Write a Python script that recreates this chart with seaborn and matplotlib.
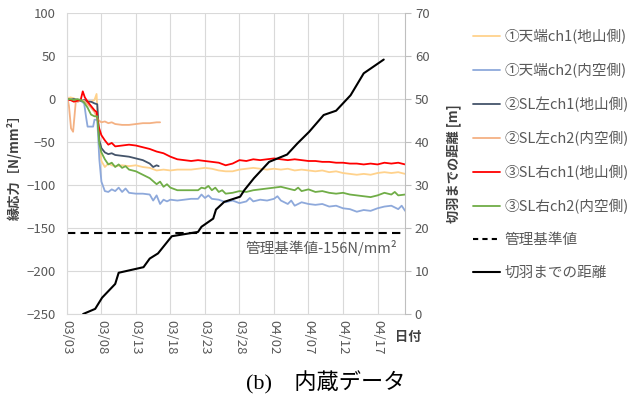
import matplotlib
matplotlib.use('Agg')
import matplotlib.pyplot as plt
import matplotlib.dates as mdates
from matplotlib.lines import Line2D
import seaborn as sns
import pandas as pd

# measurement start date (days below are offsets from it)
base_date = pd.Timestamp('2021-03-03')

# ①天端ch1(地山側)
d_c1 = [0, 0.5, 1, 1.5, 2, 2.5, 3, 3.5, 4, 4.3, 4.6, 5, 5.5, 6, 6.5, 7, 8, 9, 10, 11, 12, 13, 14, 15, 16, 17,
        18, 19, 20, 21, 22, 23, 24, 25, 26, 27, 28, 29, 30, 31, 32, 33, 34, 35, 36, 37, 38, 39, 40, 41, 42,
        43, 44, 45, 46, 47, 48, 49]
v_c1 = [0, 2, 1, -2, -1, -3, -2, -3, -1, 6, -40, -72, -79, -75, -77, -78, -77, -78, -77, -79, -80, -83, -82,
        -83, -82, -82, -82, -81, -80, -81, -83, -84, -84, -82, -81, -80, -81, -82, -81, -82, -81, -83, -82,
        -83, -84, -83, -85, -84, -86, -87, -88, -87, -88, -86, -85, -86, -85, -87]

# ①天端ch2(内空側)
d_c2 = [0, 0.5, 1, 1.5, 2, 2.5, 2.8, 3, 3.5, 3.8, 4, 4.4, 4.7, 5, 5.5, 6, 6.5, 7, 7.5, 8, 8.5, 9, 10, 11, 12,
        12.5, 13, 13.5, 14, 14.5, 15, 16, 17, 18, 19, 19.5, 20, 20.5, 21, 22, 23, 24, 25, 26, 26.5, 27, 28,
        29, 30, 30.5, 31, 32, 32.5, 33, 34, 35, 36, 37, 38, 39, 40, 41, 42, 43, 44, 45, 46, 47, 48, 48.5, 49]
v_c2 = [0, -1, 0, -3, -2, -5, -22, -32, -32, -32, -24, -24, -70, -96, -107, -108, -105, -107, -103, -108,
        -104, -109, -110, -110, -111, -118, -112, -122, -117, -119, -117, -118, -117, -116, -116, -111, -115,
        -112, -116, -117, -120, -118, -121, -119, -115, -119, -117, -118, -116, -113, -118, -122, -118, -124,
        -120, -122, -123, -122, -125, -124, -127, -128, -131, -129, -130, -127, -125, -124, -128, -124, -130]

# ②SL左ch1(地山側)
d_l1 = [0, 0.5, 1, 1.5, 2, 2.5, 3, 3.5, 4, 4.4, 4.7, 5, 5.5, 6, 6.5, 7, 8, 9, 10, 11, 11.5, 12, 12.5, 13, 13.3]
v_l1 = [0, -1, 0, -1, -2, -1, -3, -3, -5, -6, -48, -57, -62, -64, -63, -65, -66, -67, -69, -71, -73, -75,
        -79, -77, -78]

# ②SL左ch2(内空側)
d_l2 = [0, 0.3, 0.6, 0.9, 1.1, 1.3, 1.6, 2, 2.5, 3, 3.5, 4, 4.5, 5, 5.5, 6, 6.5, 7, 8, 9, 10, 11, 12, 13, 13.5]
v_l2 = [5, -8, -34, -38, -20, -2, -3, -1, -2, -6, -10, -15, -24, -27, -26, -28, -27, -29, -30, -30, -29,
        -28, -28, -27, -27]

# ③SL右ch1(地山側)
d_r1 = [0, 0.5, 1, 1.5, 2, 2.3, 2.6, 3, 3.5, 4, 4.3, 4.6, 5, 5.5, 6, 6.5, 7, 8, 9, 10, 11, 12, 13, 14, 15,
        16, 17, 18, 19, 20, 21, 22, 23, 24, 25, 26, 27, 28, 29, 30, 31, 32, 33, 34, 35, 36, 37, 38, 39, 40,
        41, 42, 43, 44, 45, 46, 47, 48, 49]
v_r1 = [0, -1, -3, -2, -1, 9, 2, -3, -8, -13, -15, -32, -42, -48, -53, -51, -55, -54, -53, -54, -56, -58,
        -61, -63, -67, -70, -71, -72, -71, -72, -73, -74, -77, -75, -71, -72, -70, -71, -70, -69, -70, -71,
        -70, -71, -72, -72, -73, -73, -74, -74, -75, -75, -76, -75, -76, -74, -75, -74, -76]

# ③SL右ch2(内空側)
d_r2 = [0, 0.5, 1, 1.5, 2, 2.5, 3, 3.5, 4, 4.4, 4.7, 5, 5.5, 6, 6.5, 7, 7.5, 8, 8.5, 9, 10, 11, 12, 13,
        13.5, 14, 14.5, 15, 16, 17, 18, 19, 19.5, 20, 20.5, 21, 21.5, 22, 22.5, 23, 24, 25, 26, 27, 28, 29,
        30, 31, 32, 33, 33.5, 34, 35, 36, 37, 38, 39, 40, 41, 42, 43, 44, 45, 46, 47, 47.5, 48, 49]
v_r2 = [0, 0, -1, 0, -1, -4, -10, -18, -20, -20, -52, -62, -70, -76, -74, -79, -76, -80, -78, -82, -84,
        -88, -92, -99, -96, -102, -99, -103, -106, -106, -106, -106, -103, -104, -101, -106, -103, -108,
        -106, -110, -109, -107, -108, -106, -105, -104, -103, -102, -104, -106, -103, -107, -105, -108,
        -107, -109, -110, -109, -111, -112, -113, -114, -112, -109, -111, -108, -112, -111]

# 切羽までの距離 [m]
d_face = [2.35, 4.1, 5.1, 7.0, 7.5, 11.1, 12.0, 13.2, 15.2, 19.0, 19.5, 21.2, 21.6, 22.8, 25.1, 25.7,
          27.1, 29.3, 31.9, 33.4, 35.1, 37.2, 39.0, 41.1, 43.0, 45.9]
v_face = [0, 1.2, 3.8, 7.0, 9.6, 10.9, 12.9, 14.1, 18.1, 19.1, 20.3, 22.2, 24.3, 26.1, 27.3, 28.8,
          31.6, 35.4, 37.1, 39.7, 42.4, 46.3, 47.3, 50.9, 56.0, 59.2]

limit_value = -156

names = ['①天端ch1(地山側)', '①天端ch2(内空側)', '②SL左ch1(地山側)',
         '②SL左ch2(内空側)', '③SL右ch1(地山側)', '③SL右ch2(内空側)']
colors = ['#FFD28C', '#8EA9DB', '#44546A', '#F4B183', '#FF0000', '#70AD47']
series = [(d_c1, v_c1), (d_c2, v_c2), (d_l1, v_l1), (d_l2, v_l2), (d_r1, v_r1), (d_r2, v_r2)]

frames = []
for name, (d, v) in zip(names, series):
    frames.append(pd.DataFrame({'date': base_date + pd.to_timedelta(d, unit='D'),
                                'stress': v, 'series': name}))
df = pd.concat(frames, ignore_index=True)
df_face = pd.DataFrame({'date': base_date + pd.to_timedelta(d_face, unit='D'), 'dist': v_face})

sns.set_style('white')
plt.rcParams['font.family'] = ['Noto Sans CJK JP', 'DejaVu Sans']
grey = '#595959'

fig = plt.figure(figsize=(6.37, 3.98), dpi=100)
ax = fig.add_axes([0.105, 0.211, 0.531, 0.756])

ax.grid(True, color='#d9d9d9', lw=0.8)
sns.lineplot(data=df, x='date', y='stress', hue='series', hue_order=names, palette=colors,
             estimator=None, linewidth=1.3, legend=False, ax=ax)
ax.axhline(limit_value, color='black', lw=1.5, ls=(0, (4, 2.5)))
ax.text(base_date + pd.Timedelta(days=47.9), -173, '管理基準値-156N/mm²', ha='right', va='center',
        fontsize=10.5, color=grey)

ax.set_ylim(-250, 100)
ax.set_yticks(range(-250, 101, 50))
xmin = base_date
xmax = base_date + pd.Timedelta(days=49)
ax.set_xlim(xmin, xmax)
ax.set_xticks(pd.date_range(base_date, periods=10, freq='5D'))
ax.xaxis.set_major_formatter(mdates.DateFormatter('%m/%d'))
ax.tick_params(axis='x', labelrotation=270, labelsize=9.5, colors=grey, length=0, pad=4)
ax.tick_params(axis='y', labelsize=9.5, colors=grey, length=0, pad=8)
ax.set_xlabel('')
ax.set_ylabel('縁応力［N/mm²］', fontsize=9.5, fontweight='bold', color='#404040', labelpad=3)
for s in ['top', 'right']:
    ax.spines[s].set_visible(False)
for s in ['left', 'bottom']:
    ax.spines[s].set_color('#d9d9d9')

ax2 = ax.twinx()
sns.lineplot(data=df_face, x='date', y='dist', color='black', linewidth=1.5, ax=ax2)
ax2.set_ylim(0, 70)
ax2.set_yticks(range(0, 71, 10))
ax2.set_xlim(xmin, xmax)
ax2.tick_params(axis='y', labelsize=9.5, colors=grey, length=4, color='#bfbfbf', pad=3)
ax2.set_ylabel('切羽までの距離 [m]', fontsize=9.5, fontweight='bold', color='#404040', labelpad=12)
for s in ['top', 'left', 'bottom']:
    ax2.spines[s].set_visible(False)
ax2.spines['right'].set_color('#bfbfbf')

fig.text(0.641, 0.153, '日付', ha='center', va='center', fontsize=9.5, fontweight='bold', color='#404040')

handles = [Line2D([], [], color=c, lw=1.3) for c in colors]
handles.append(Line2D([], [], color='black', lw=1.5, ls=(0, (2.5, 2))))
handles.append(Line2D([], [], color='black', lw=1.5))
labels = names + ['管理基準値', '切羽までの距離']
fig.legend(handles, labels, loc='upper left', bbox_to_anchor=(0.7425, 0.927), frameon=False,
           fontsize=10.5, labelcolor=grey, handlelength=1.85, handletextpad=0.34, labelspacing=1.29,
           borderpad=0, borderaxespad=0)

fig.text(0.512, 0.037, '(b)\u3000内蔵データ', ha='center', va='center', fontsize=16,
         family=['Liberation Serif', 'Noto Sans CJK JP'], color='black')

fig.savefig('out.png', dpi=100)
